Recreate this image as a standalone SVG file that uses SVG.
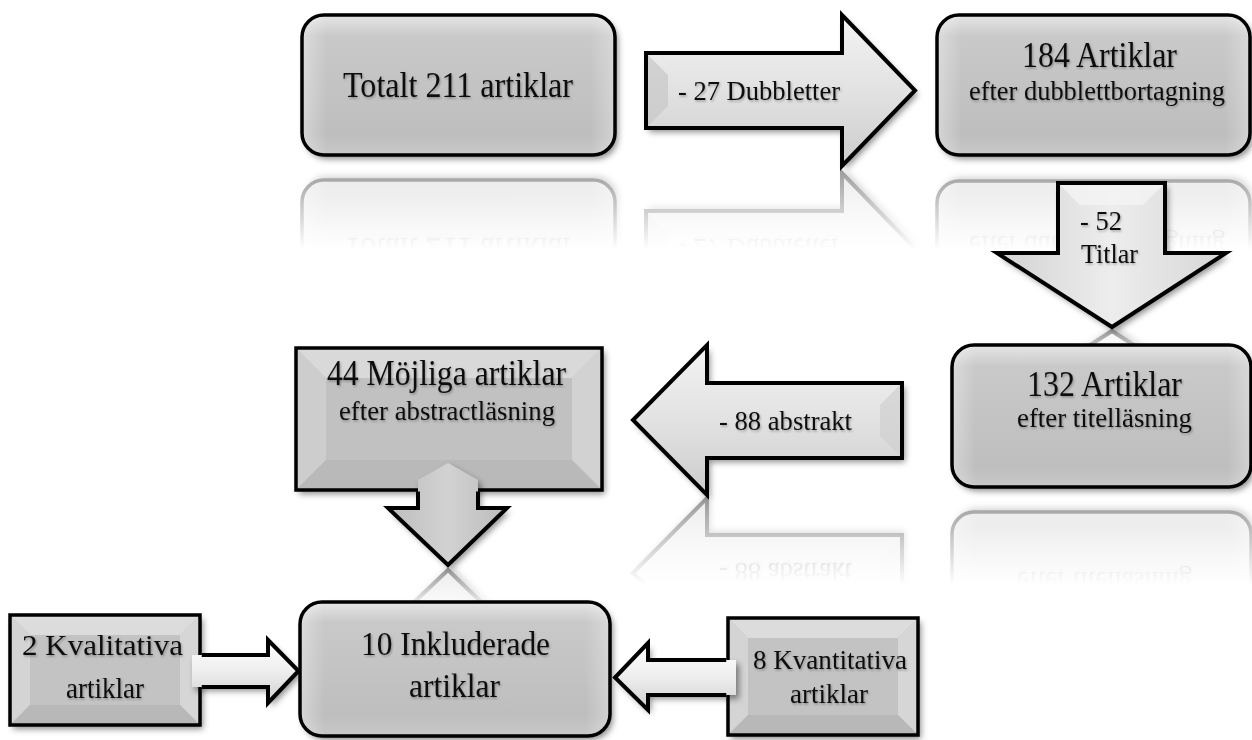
<svg xmlns="http://www.w3.org/2000/svg" width="1252" height="740" viewBox="0 0 1252 740">
<defs>
<style>
.t{font-family:"Liberation Serif","Times New Roman",serif;fill:#111;text-anchor:middle;filter:url(#ts);}
.edge{stroke:#000;stroke-width:3.5;fill:none}
.aedge{stroke:#000;stroke-width:4;fill:none;stroke-linejoin:miter}
</style>
<filter id="sh" x="-10%" y="-10%" width="125%" height="135%">
<feDropShadow dx="3" dy="4" stdDeviation="3" flood-color="#000" flood-opacity="0.45"/>
</filter>
<filter id="ts" x="-5%" y="-25%" width="112%" height="160%">
<feDropShadow dx="1" dy="1.5" stdDeviation="1" flood-color="#000" flood-opacity="0.3"/>
</filter>
<linearGradient id="gBox" x1="0" y1="0" x2="0" y2="1">
<stop offset="0" stop-color="#e6e6e6"/>
<stop offset="0.15" stop-color="#c9c9c9"/>
<stop offset="0.85" stop-color="#bebebe"/>
<stop offset="1" stop-color="#c8c8c8"/>
</linearGradient>
<linearGradient id="gEdge" x1="0" y1="0" x2="1" y2="0">
<stop offset="0" stop-color="#fff" stop-opacity="0.35"/>
<stop offset="0.08" stop-color="#fff" stop-opacity="0"/>
<stop offset="0.92" stop-color="#fff" stop-opacity="0"/>
<stop offset="1" stop-color="#fff" stop-opacity="0.3"/>
</linearGradient>
<linearGradient id="gArrH" x1="0" y1="0" x2="0" y2="1">
<stop offset="0" stop-color="#f3f3f3"/>
<stop offset="0.5" stop-color="#e2e2e2"/>
<stop offset="1" stop-color="#cccccc"/>
</linearGradient>
<linearGradient id="gArrV" x1="0" y1="0" x2="1" y2="0">
<stop offset="0" stop-color="#d2d2d2"/>
<stop offset="0.5" stop-color="#ededed"/>
<stop offset="1" stop-color="#d6d6d6"/>
</linearGradient>
<linearGradient id="gArrD" x1="0" y1="0" x2="1" y2="0">
<stop offset="0" stop-color="#bdbdbd"/>
<stop offset="0.5" stop-color="#d2d2d2"/>
<stop offset="1" stop-color="#bbbbbb"/>
</linearGradient>
<linearGradient id="gSmall" x1="0" y1="0" x2="0" y2="1">
<stop offset="0" stop-color="#ffffff"/>
<stop offset="0.5" stop-color="#eeeeee"/>
<stop offset="1" stop-color="#d0d0d0"/>
</linearGradient>
<linearGradient id="fade" x1="0" y1="0" x2="0" y2="1">
<stop offset="0" stop-color="#fff" stop-opacity="0.45"/>
<stop offset="1" stop-color="#fff" stop-opacity="0"/>
</linearGradient>
<mask id="m1" maskUnits="userSpaceOnUse" x="0" y="0" width="1252" height="740"><rect x="0" y="156" width="1252" height="94" fill="url(#fade)"/></mask>
<mask id="m2" maskUnits="userSpaceOnUse" x="0" y="0" width="1252" height="740"><rect x="0" y="326" width="1252" height="40" fill="url(#fade)"/></mask>
<mask id="m3" maskUnits="userSpaceOnUse" x="0" y="0" width="1252" height="740"><rect x="0" y="488" width="1252" height="97" fill="url(#fade)"/></mask>
<mask id="m4" maskUnits="userSpaceOnUse" x="0" y="0" width="1252" height="740"><rect x="0" y="566" width="1252" height="45" fill="url(#fade)"/></mask>
</defs>

<rect x="0" y="0" width="1252" height="740" fill="#fff"/>

<g id="reflections">
<g mask="url(#m1)">
<use href="#n1" transform="matrix(1 0 0 -1 0 335)"/>
<use href="#a1" transform="matrix(1 0 0 -1 0 339)"/>
<use href="#n2" transform="matrix(1 0 0 -1 0 336)"/>
</g>
<g mask="url(#m2)"><use href="#a2" transform="matrix(1 0 0 -1 0 658)"/></g>
<g mask="url(#m3)">
<use href="#n3" transform="matrix(1 0 0 -1 0 999)"/>
<use href="#a3" transform="matrix(1 0 0 -1 0 993)"/>
</g>
<g mask="url(#m4)"><use href="#a4" transform="matrix(1 0 0 -1 0 1135)"/></g>
</g>

<g id="n1">
<rect x="302" y="15" width="313" height="140" rx="22" fill="url(#gBox)" filter="url(#sh)"/>
<rect x="302" y="15" width="313" height="140" rx="22" fill="url(#gEdge)"/>
<rect class="edge" x="302" y="15" width="313" height="140" rx="22"/>
<text class="t" x="458" y="97" font-size="36" textLength="230" lengthAdjust="spacingAndGlyphs">Totalt 211 artiklar</text>
</g>

<g id="n2">
<rect x="937" y="15" width="313" height="140" rx="22" fill="url(#gBox)" filter="url(#sh)"/>
<rect x="937" y="15" width="313" height="140" rx="22" fill="url(#gEdge)"/>
<rect class="edge" x="937" y="15" width="313" height="140" rx="22"/>
<text class="t" x="1099.5" y="67" font-size="36" textLength="155" lengthAdjust="spacingAndGlyphs">184 Artiklar</text>
<text class="t" x="1097" y="100" font-size="28" textLength="256" lengthAdjust="spacingAndGlyphs">efter dubblettbortagning</text>
</g>

<g id="n3">
<rect x="952" y="345" width="299" height="142" rx="22" fill="url(#gBox)" filter="url(#sh)"/>
<rect x="952" y="345" width="299" height="142" rx="22" fill="url(#gEdge)"/>
<rect class="edge" x="952" y="345" width="299" height="142" rx="22"/>
<text class="t" x="1104.5" y="396" font-size="36" textLength="155" lengthAdjust="spacingAndGlyphs">132 Artiklar</text>
<text class="t" x="1104.5" y="427" font-size="28" textLength="175" lengthAdjust="spacingAndGlyphs">efter titelläsning</text>
</g>

<g id="n4">
<rect x="296" y="348" width="306" height="142" fill="#c1c1c1" filter="url(#sh)"/>
<polygon points="296,348 602,348 572,378 326,378" fill="#d9d9d9"/>
<polygon points="296,348 326,378 326,460 296,490" fill="#cdcdcd"/>
<polygon points="602,348 602,490 572,460 572,378" fill="#d2d2d2"/>
<polygon points="296,490 326,460 572,460 602,490" fill="#b9b9b9"/>
<rect class="edge" x="296" y="348" width="306" height="142"/>
<text class="t" x="446.5" y="385" font-size="35" textLength="239" lengthAdjust="spacingAndGlyphs">44 Möjliga artiklar</text>
<text class="t" x="447" y="420" font-size="28" textLength="216" lengthAdjust="spacingAndGlyphs">efter abstractläsning</text>
</g>

<g id="n6">
<rect x="10" y="615" width="190" height="110" fill="#c3c3c3" filter="url(#sh)"/>
<polygon points="10,615 200,615 180,635 30,635" fill="#dcdcdc"/>
<polygon points="10,615 30,635 30,705 10,725" fill="#d4d4d4"/>
<polygon points="200,615 200,725 180,705 180,635" fill="#d6d6d6"/>
<polygon points="10,725 30,705 180,705 200,725" fill="#b8b8b8"/>
<rect class="edge" x="10" y="615" width="190" height="110"/>
<text class="t" x="102.5" y="655" font-size="29" textLength="161" lengthAdjust="spacingAndGlyphs">2 Kvalitativa</text>
<text class="t" x="105" y="698" font-size="29" textLength="78" lengthAdjust="spacingAndGlyphs">artiklar</text>
</g>

<g id="n7">
<rect x="728" y="618" width="190" height="117" fill="#c3c3c3" filter="url(#sh)"/>
<polygon points="728,618 918,618 898,638 748,638" fill="#dcdcdc"/>
<polygon points="728,618 748,638 748,715 728,735" fill="#d4d4d4"/>
<polygon points="918,618 918,735 898,715 898,638" fill="#d6d6d6"/>
<polygon points="728,735 748,715 898,715 918,735" fill="#b8b8b8"/>
<rect class="edge" x="728" y="618" width="190" height="117"/>
<text class="t" x="830" y="669" font-size="28" textLength="154" lengthAdjust="spacingAndGlyphs">8 Kvantitativa</text>
<text class="t" x="829" y="703" font-size="28" textLength="78" lengthAdjust="spacingAndGlyphs">artiklar</text>
</g>

<g id="connectors">
<g id="a1">
<polygon points="646,53 842,53 842,15 915,90.5 842,166 842,128 646,128" fill="url(#gArrH)" filter="url(#sh)"/>
<polygon points="646,53 668,75 668,106 646,128" fill="#c8c8c8" opacity="0.7"/>
<polygon class="aedge" points="646,53 842,53 842,15 915,90.5 842,166 842,128 646,128"/>
<text class="t" x="759" y="100" font-size="27" textLength="162" lengthAdjust="spacingAndGlyphs">- 27 Dubbletter</text>
</g>
<g id="a2">
<polygon points="1058,183 1165,183 1165,253 1226,253 1112,327 997,253 1058,253" fill="url(#gArrV)" filter="url(#sh)"/>
<polygon points="1058,183 1165,183 1143,205 1080,205" fill="#f4f4f4" opacity="0.8"/>
<polygon class="aedge" points="1058,183 1165,183 1165,253 1226,253 1112,327 997,253 1058,253"/>
<text class="t" x="1101" y="230" font-size="27" textLength="42" lengthAdjust="spacingAndGlyphs">- 52</text>
<text class="t" x="1109.5" y="263" font-size="27" textLength="57" lengthAdjust="spacingAndGlyphs">Titlar</text>
</g>
<g id="a3">
<polygon points="902,383 707,383 707,345 633,420 707,495 707,458 902,458" fill="url(#gArrH)" filter="url(#sh)"/>
<polygon points="902,383 902,458 880,436 880,405" fill="#d0d0d0" opacity="0.7"/>
<polygon class="aedge" points="902,383 707,383 707,345 633,420 707,495 707,458 902,458"/>
<text class="t" x="785.5" y="430" font-size="27" textLength="133" lengthAdjust="spacingAndGlyphs">- 88 abstrakt</text>
</g>
<g id="a4">
<polygon points="418,480 448,463 478,480 478,508 507,508 448,565 388,508 418,508" fill="url(#gArrD)" filter="url(#sh)"/>
<polyline class="aedge" points="418,491.5 418,508 388,508 448,565 507,508 478,508 478,491.5"/>
</g>
<g id="a5">
<polygon points="192,655 268,655 268,640 298.5,671 268,703 268,687 192,687" fill="url(#gSmall)" filter="url(#sh)"/>
<polyline class="aedge" points="201.75,655 268,655 268,640 298.5,671 268,703 268,687 201.75,687"/>
</g>
<g id="a6">
<polygon points="736,660 648,660 648,643 615,677.5 648,710 648,695 736,695" fill="url(#gSmall)" filter="url(#sh)"/>
<polyline class="aedge" points="726.25,660 648,660 648,643 615,677.5 648,710 648,695 726.25,695"/>
</g>
</g>

<g id="n5">
<rect x="300" y="602" width="310" height="134" rx="22" fill="url(#gBox)" filter="url(#sh)"/>
<rect x="300" y="602" width="310" height="134" rx="22" fill="url(#gEdge)"/>
<rect class="edge" x="300" y="602" width="310" height="134" rx="22"/>
<text class="t" x="455.5" y="655" font-size="34" textLength="189" lengthAdjust="spacingAndGlyphs">10 Inkluderade</text>
<text class="t" x="454.5" y="697" font-size="34" textLength="91" lengthAdjust="spacingAndGlyphs">artiklar</text>
</g>
</svg>
